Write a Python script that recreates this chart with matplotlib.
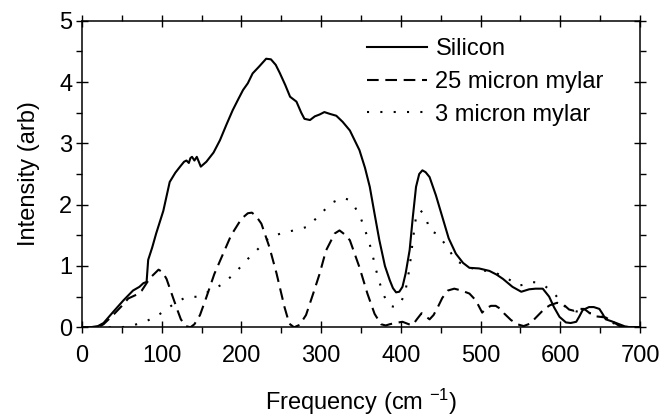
import numpy as np
import matplotlib
matplotlib.use('Agg')
import matplotlib.pyplot as plt
from matplotlib.ticker import MultipleLocator

plt.rcParams['font.family'] = ['Liberation Sans', 'DejaVu Sans']
plt.rcParams['mathtext.fontset'] = 'custom'
plt.rcParams['mathtext.rm'] = 'Liberation Sans'
plt.rcParams['mathtext.it'] = 'Liberation Sans'

###--- Data ---###
si_x = [0, 10, 20, 27, 39, 52, 64, 72, 77, 81, 83, 88, 93, 102, 110, 117, 123, 128, 131,
        134, 136, 138, 141, 144, 149, 156, 165, 173, 181, 189, 196, 202, 208, 214, 222,
        231, 237, 243, 248, 255, 261, 269, 275, 279, 286, 292, 298, 304, 311, 319, 327,
        336, 342, 348, 355, 361, 367, 373, 380, 386, 390, 394, 398, 402, 406, 411, 415,
        419, 423, 427, 431, 436, 444, 452, 460, 469, 478, 486, 498, 511, 520, 528, 540,
        551, 556, 561, 569, 578, 586, 592, 599, 607, 613, 620, 624, 628, 636, 642, 649,
        653, 657, 664, 670, 676, 682, 690, 700]
si_y = [0, 0, 0.02, 0.07, 0.25, 0.44, 0.6, 0.66, 0.72, 0.74, 1.1, 1.3, 1.53, 1.9, 2.37,
        2.52, 2.62, 2.7, 2.72, 2.68, 2.76, 2.78, 2.72, 2.78, 2.62, 2.7, 2.85, 3.05, 3.3,
        3.54, 3.72, 3.87, 3.98, 4.14, 4.25, 4.38, 4.37, 4.28, 4.15, 3.95, 3.76, 3.68,
        3.5, 3.4, 3.38, 3.44, 3.47, 3.51, 3.48, 3.45, 3.35, 3.21, 3.05, 2.89, 2.6, 2.29,
        1.85, 1.42, 1.0, 0.77, 0.64, 0.57, 0.58, 0.66, 0.88, 1.26, 1.8, 2.29, 2.5, 2.56,
        2.53, 2.45, 2.15, 1.8, 1.45, 1.2, 1.05, 0.97, 0.96, 0.92, 0.86, 0.79, 0.66, 0.58,
        0.6, 0.62, 0.63, 0.63, 0.5, 0.33, 0.17, 0.08, 0.07, 0.09, 0.18, 0.28, 0.33, 0.33,
        0.3, 0.22, 0.13, 0.1, 0.07, 0.04, 0.01, 0, 0]

m25_x = [0, 20, 27, 39, 50, 58, 68, 75, 85, 96, 101, 106, 114, 120, 124, 130, 136, 141,
         148, 156, 166, 177, 187, 200, 208, 213, 218, 225, 235, 244, 254, 260, 266, 273,
         281, 290, 298, 306, 317, 323, 329, 336, 348, 358, 367, 375, 381, 386, 393, 402,
         410, 415, 420, 426, 431, 436, 441, 446, 452, 459, 467, 476, 486, 494, 502, 507,
         513, 519, 525, 530, 538, 546, 554, 562, 571, 580, 587, 596, 604, 611, 617, 623,
         630, 636, 644, 657, 666, 672, 677, 700]
m25_y = [0, 0, 0.05, 0.2, 0.35, 0.47, 0.53, 0.6, 0.8, 0.94, 0.9, 0.79, 0.49, 0.27, 0.13,
         0.02, 0.0, 0.05, 0.2, 0.49, 0.87, 1.2, 1.5, 1.77, 1.86, 1.87, 1.82, 1.69, 1.31,
         0.88, 0.33, 0.06, 0.0, 0.04, 0.2, 0.55, 0.87, 1.25, 1.53, 1.58, 1.52, 1.42, 0.98,
         0.55, 0.22, 0.05, 0.03, 0.05, 0.07, 0.09, 0.05, 0.04, 0.13, 0.23, 0.18, 0.13,
         0.2, 0.32, 0.48, 0.6, 0.63, 0.6, 0.55, 0.44, 0.24, 0.31, 0.35, 0.35, 0.3, 0.22,
         0.12, 0.05, 0.02, 0.06, 0.18, 0.3, 0.36, 0.4, 0.37, 0.29, 0.27, 0.3, 0.3, 0.24,
         0.18, 0.16, 0.09, 0.04, 0.0, 0]

m3_x = [0, 40, 50, 66, 81, 98, 114, 130, 146, 162, 177, 193, 206, 221, 235, 252, 269, 283,
        298, 313, 327, 335, 342, 350, 356, 361, 365, 369, 373, 377, 381, 386, 393, 400,
        405, 408, 411, 415, 419, 424, 429, 432, 436, 446, 457, 469, 484, 500, 515, 532,
        548, 556, 563, 571, 580, 588, 595, 603, 611, 620, 630, 638, 646, 652, 659, 666,
        674, 680, 700]
m3_y = [0, 0, 0, 0.04, 0.1, 0.22, 0.37, 0.49, 0.5, 0.6, 0.71, 0.9, 1.09, 1.28, 1.47, 1.54,
        1.59, 1.64, 1.83, 2.03, 2.11, 2.08, 1.97, 1.77, 1.55, 1.35, 1.15, 0.93, 0.74,
        0.58, 0.45, 0.35, 0.33, 0.41, 0.55, 0.75, 0.98, 1.42, 1.8, 1.91, 1.85, 1.77, 1.58,
        1.52, 1.33, 1.09, 0.98, 0.93, 0.91, 0.81, 0.68, 0.7, 0.74, 0.73, 0.68, 0.6, 0.51,
        0.37, 0.29, 0.26, 0.24, 0.23, 0.23, 0.18, 0.11, 0.07, 0.03, 0.01, 0]

labels = ['Silicon', '25 micron mylar', '3 micron mylar']

###--- Plotting ---###
fs = 17
fig = plt.figure(figsize=(6.62, 4.2), dpi=100)
ax = fig.add_axes([0.1239, 0.2207, 0.8429, 0.7300])  # [left,bottom,width,height]

lw = 1.5
ax.plot(si_x, si_y, color='k', lw=lw, ls='-', label=labels[0])
ax.plot(m25_x, m25_y, color='k', lw=lw, ls=(0, (5.6, 3.2)), label=labels[1])
ax.plot(m3_x, m3_y, color='k', lw=lw, ls=(0, (1, 5.4)), label=labels[2])

ax.set_xlim(0, 700)
ax.set_ylim(0, 5)
ax.xaxis.set_major_locator(MultipleLocator(100))
ax.xaxis.set_minor_locator(MultipleLocator(50))
ax.yaxis.set_major_locator(MultipleLocator(1))
ax.yaxis.set_minor_locator(MultipleLocator(0.5))

ax.tick_params(which='both', top=True, right=True, labelsize=fs, width=1.0)
ax.tick_params(which='major', direction='inout', length=8)
ax.tick_params(which='minor', direction='out', length=4)
ax.tick_params(axis='x', which='major', pad=8.5)
ax.tick_params(axis='y', which='major', pad=3)
for sp in ax.spines.values():
    sp.set_linewidth(1.1)

ax.set_xlabel('Frequency (cm $^{-1}$)', fontsize=fs)
ax.set_ylabel('Intensity (arb)', fontsize=fs)
ax.xaxis.set_label_coords(0.5, -0.195)
ax.yaxis.set_label_coords(-0.075, 0.5)

ax.legend(loc='upper left', bbox_to_anchor=(0.511, 0.942), frameon=False,
          fontsize=fs, handlelength=2.55, handletextpad=0.34, labelspacing=0.45,
          borderpad=0, borderaxespad=0)

fig.savefig('out.png', dpi=100)
